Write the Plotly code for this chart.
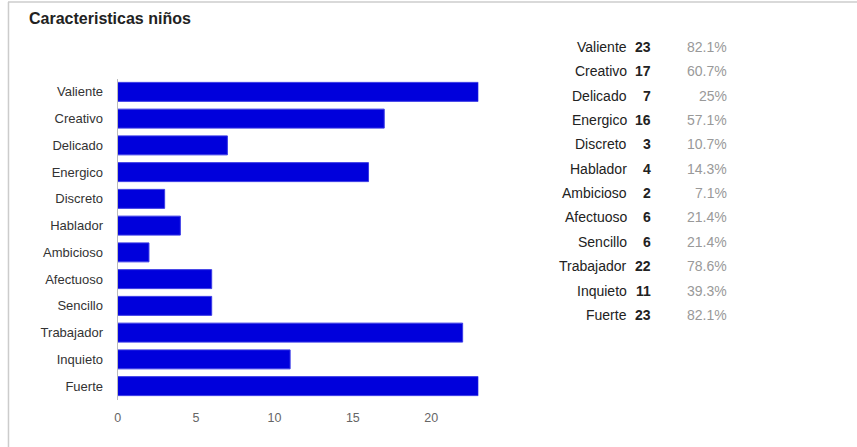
import plotly.graph_objects as go

categories = ["Valiente", "Creativo", "Delicado", "Energico", "Discreto", "Hablador",
              "Ambicioso", "Afectuoso", "Sencillo", "Trabajador", "Inquieto", "Fuerte"]
counts = [23, 17, 7, 16, 3, 4, 2, 6, 6, 22, 11, 23]
percents = ["82.1%", "60.7%", "25%", "57.1%", "10.7%", "14.3%",
            "7.1%", "21.4%", "21.4%", "78.6%", "39.3%", "82.1%"]
x_ticks = [0, 5, 10, 15, 20]

W, H = 857, 447
def px(x):
    return x / W
def py(y):
    return 1 - y / H

fig = go.Figure()
fig.add_trace(go.Bar(
    x=counts, y=categories, orientation="h",
    marker=dict(color="#0000DC", line=dict(color="#3a3ae6", width=1)),
    width=0.71, hoverinfo="skip"
))

fig.update_layout(
    width=W, height=H,
    margin=dict(l=0, r=0, t=0, b=0),
    paper_bgcolor="white", plot_bgcolor="white",
    showlegend=False,
    font=dict(family="Arial, Liberation Sans, sans-serif"),
    xaxis=dict(domain=[px(115), px(477)], range=[0, 23],
               tickvals=x_ticks, showgrid=False, zeroline=False, showline=False,
               ticks="", tickfont=dict(size=12.5, color="#666"),
               ticklabelstandoff=9, fixedrange=True),
    yaxis=dict(domain=[py(399.5), py(78.5)], autorange="reversed",
               categoryorder="array", categoryarray=categories,
               showgrid=False, zeroline=False, showline=True,
               linecolor="#bbb", linewidth=1, ticks="",
               tickfont=dict(size=13, color="#333"),
               ticklabelstandoff=11, fixedrange=True),
)

# title
fig.add_annotation(x=px(24), y=py(19), xref="paper", yref="paper",
                   text="<b>Caracteristicas niños</b>", showarrow=False,
                   xanchor="left", yanchor="middle",
                   font=dict(size=16, color="#222"))

# table on the right
row0, step = 47, 24.35
for i, (c, n, p) in enumerate(zip(categories, counts, percents)):
    y = py(row0 + i * step)
    fig.add_annotation(x=px(628), y=y, xref="paper", yref="paper", text=c,
                       showarrow=False, xanchor="right", yanchor="middle",
                       font=dict(size=14, color="#222"))
    fig.add_annotation(x=px(652), y=y, xref="paper", yref="paper", text=f"<b>{n}</b>",
                       showarrow=False, xanchor="right", yanchor="middle",
                       font=dict(size=14, color="#222"))
    fig.add_annotation(x=px(729), y=y, xref="paper", yref="paper", text=p,
                       showarrow=False, xanchor="right", yanchor="middle",
                       font=dict(size=14, color="#999"))

# frame lines (top and left)
fig.add_shape(type="line", xref="paper", yref="paper", x0=px(5), x1=1, y0=py(2), y1=py(2),
              line=dict(color="#ccc", width=1.5))
fig.add_shape(type="line", xref="paper", yref="paper", x0=px(5.5), x1=px(5.5), y0=py(2), y1=0,
              line=dict(color="#ccc", width=1.5))

fig.write_html("out.html", config={"displayModeBar": False})
